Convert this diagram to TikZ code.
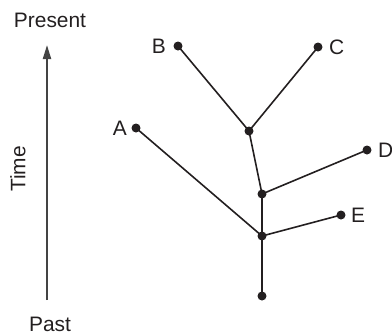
\documentclass[tikz,border=0pt]{standalone}
\usepackage{fontspec}
\setmainfont{Liberation Sans}
\usetikzlibrary{arrows.meta}
\definecolor{ink}{HTML}{231F20}
\definecolor{axis}{HTML}{444444}
\begin{document}
\begin{tikzpicture}[x=1bp,y=-1bp,
  dot/.style={circle,fill=ink,inner sep=0pt,minimum size=9bp},
  branch/.style={draw=ink,line width=1.6bp},
  lbl/.style={font=\fontsize{21}{25}\selectfont,text=ink,inner sep=0pt},
  timeaxis/.style={draw=axis,line width=2bp,-{Triangle[length=14bp,width=8bp]}}]
\useasboundingbox (0,0) rectangle (392,335);
% time axis
\coordinate (past) at (47,300);
\coordinate (present) at (47,45);
\draw[timeaxis] (past) -- (present);
\node[lbl,anchor=base] (presentlbl) at (50,27) {Present};
\node[lbl,anchor=base] (pastlbl) at (50,331) {Past};
\node[lbl,rotate=90] (timelbl) at (18,169) {Time};
% tree nodes
\node[dot] (B) at (178,46) {};
\node[dot] (C) at (318,47) {};
\node[dot] (A) at (136,128) {};
\node[dot] (BC) at (249,131) {};
\node[dot] (D) at (367,150) {};
\node[dot] (J2) at (262,194) {};
\node[dot] (E) at (341,215) {};
\node[dot] (J1) at (262,236) {};
\node[dot] (R) at (262,296) {};
% branches
\draw[branch] (R.center) -- (J1.center);
\draw[branch] (J1.center) -- (A.center);
\draw[branch] (J1.center) -- (E.center);
\draw[branch] (J1.center) -- (J2.center);
\draw[branch] (J2.center) -- (D.center);
\draw[branch] (J2.center) -- (BC.center);
\draw[branch] (BC.center) -- (B.center);
\draw[branch] (BC.center) -- (C.center);
% labels
\node[lbl,anchor=east] (Blbl) at (166,46) {B};
\node[lbl,anchor=west] (Clbl) at (329,47) {C};
\node[lbl,anchor=east] (Albl) at (127,128) {A};
\node[lbl,anchor=west] (Dlbl) at (378,150) {D};
\node[lbl,anchor=west] (Elbl) at (351,215) {E};
\end{tikzpicture}
\end{document}
